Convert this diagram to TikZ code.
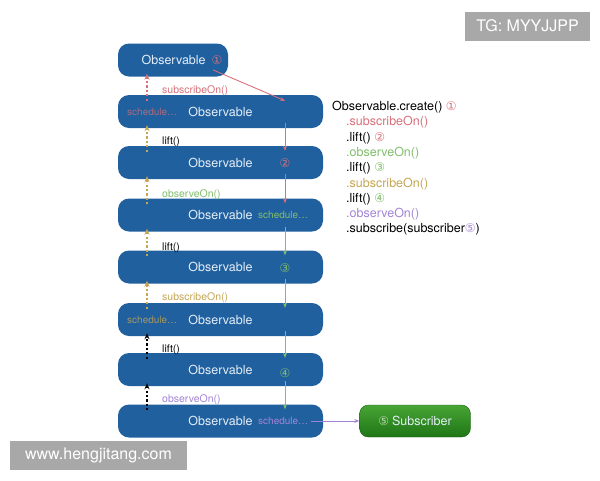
\documentclass[tikz,border=0pt]{standalone}
\usepackage{fontspec}
\setmainfont{TeX Gyre Heros}
\newfontfamily\circfont{DejaVu Sans}
\usetikzlibrary{arrows.meta}
\definecolor{obsblue}{RGB}{32,96,158}
\definecolor{obstext}{RGB}{228,238,248}
\definecolor{subred}{RGB}{214,112,122}
\definecolor{obsgreen}{RGB}{128,190,108}
\definecolor{subgold}{RGB}{196,166,84}
\definecolor{obspurple}{RGB}{162,132,214}
\definecolor{markgray}{RGB}{168,168,168}
\definecolor{subgreen}{RGB}{30,118,22}
\definecolor{subgreenlight}{RGB}{72,164,52}
\newcommand{\cnum}[2]{{\circfont\fontsize{12}{14}\selectfont\color{#1}#2}}

\begin{document}
\begin{tikzpicture}[x=1pt,y=-1pt,
  obs/.style={fill=obsblue,rounded corners=11pt,minimum width=205pt,minimum height=33pt,
    inner sep=0pt,text=obstext,font=\fontsize{12.5}{15}\selectfont},
  tag/.style={inner sep=0pt,anchor=west,font=\fontsize{10.5}{12}\selectfont},
  sched/.style={tag,font=\fontsize{10}{12}\selectfont},
  num/.style={inner sep=0pt},
  flow/.style={-{Stealth[length=5pt,width=4pt]},line width=0.9pt},
  back/.style={-{Stealth[length=6pt,width=5pt]},line width=1.1pt,dash pattern=on 2.2pt off 2.2pt},
  wmark/.style={fill=markgray,text=white,minimum height=29pt,inner sep=0pt,
    font=\fontsize{16}{18}\selectfont}]
\useasboundingbox (0,0) rectangle (600,480);

% chain of observables
\node[obs,minimum width=110pt] (o0) at (173,60) {\hspace*{18pt}Observable\hspace{6pt}\cnum{subred}{①}};
\foreach \n/\y in {1/111.5,2/162.5,3/215,4/267,5/319.5,6/369.5,7/421}
  \node[obs] (o\n) at (220.5,\y) {Observable};
\node[top color=subgreenlight,bottom color=subgreen,draw=subgreen!80!black,rounded corners=9pt,
  minimum width=111pt,minimum height=32pt,inner sep=0pt,text=obstext,
  font=\fontsize{12.5}{15}\selectfont] (sub) at (415,421) {\cnum{subgreenlight!40!white}{⑤}\hspace{3pt}Subscriber};

% schedulers and numbers
\node[sched,text=subred!75!obsblue] (s1) at (127,112) {schedule\ldots};
\node[sched,text=obsgreen] (s3) at (258,215) {schedule\ldots};
\node[sched,text=subgold!80!obsblue] (s5) at (127,320) {schedule\ldots};
\node[sched,text=obspurple] (s7) at (258,421) {schedule\ldots};
\node[num] (n2) at (285,163) {\cnum{subred}{②}};
\node[num] (n3) at (285,268) {\cnum{obsgreen}{③}};
\node[num] (n4) at (285,373) {\cnum{obsgreen}{④}};

% arrows
\coordinate (ax) at (285,0);
\coordinate (bx) at (147,0);
\draw[flow,subred] ([shift={(-15,10)}]o0.east) -- ([yshift=-6pt]o1.north -| ax);
\foreach \a/\b/\c in {1/2/subred,2/3/subred,3/4/obsgreen,4/5/obsgreen,5/6/obsgreen,6/7/obsgreen}
  \draw[flow,\c] ([yshift=5pt]o\a.south -| ax) -- ([yshift=-5pt]o\b.north -| ax);
\foreach \a/\b/\c in {1/0/subred,2/1/subgold,3/2/subgold,4/3/subgold,5/4/subgold,6/5/black,7/6/black}
  \draw[back,\c] ([yshift=-6pt]o\a.north -| bx) -- ([yshift=3pt]o\b.south -| bx);
\draw[flow,obspurple,shorten <=3pt] (s7.east) -- (sub.west);

% operators
\node[tag,text=subred] (l1) at (162,91) {subscribeOn()};
\node[tag] (l2) at (162,142) {lift()};
\node[tag,text=obsgreen] (l3) at (162,195) {observeOn()};
\node[tag] (l4) at (162,248) {lift()};
\node[tag,text=subgold] (l5) at (162,298) {subscribeOn()};
\node[tag] (l6) at (162,350) {lift()};
\node[tag,text=obspurple] (l7) at (162,400) {observeOn()};

% code
\node[anchor=north west,align=left,inner sep=0pt,font=\fontsize{12.5}{15.3}\selectfont] (code) at (332,101)
  {Observable.create() \cnum{subred}{①}\\
   \hspace*{14pt}{\color{subred}.subscribeOn()}\\
   \hspace*{14pt}.lift() \cnum{subred}{②}\\
   \hspace*{14pt}{\color{obsgreen}.observeOn()}\\
   \hspace*{14pt}.lift() \cnum{obsgreen}{③}\\
   \hspace*{14pt}{\color{subgold}.subscribeOn()}\\
   \hspace*{14pt}.lift() \cnum{obsgreen}{④}\\
   \hspace*{14pt}{\color{obspurple}.observeOn()}\\
   \hspace*{14pt}.subscribe(subscriber\cnum{obspurple}{⑤})};

% watermarks
\node[wmark,minimum width=125pt] (tg) at (527.5,26) {TG: MYYJJPP};
\node[wmark,minimum width=177pt] (www) at (98.5,455) {www.hengjitang.com};
\end{tikzpicture}
\end{document}
